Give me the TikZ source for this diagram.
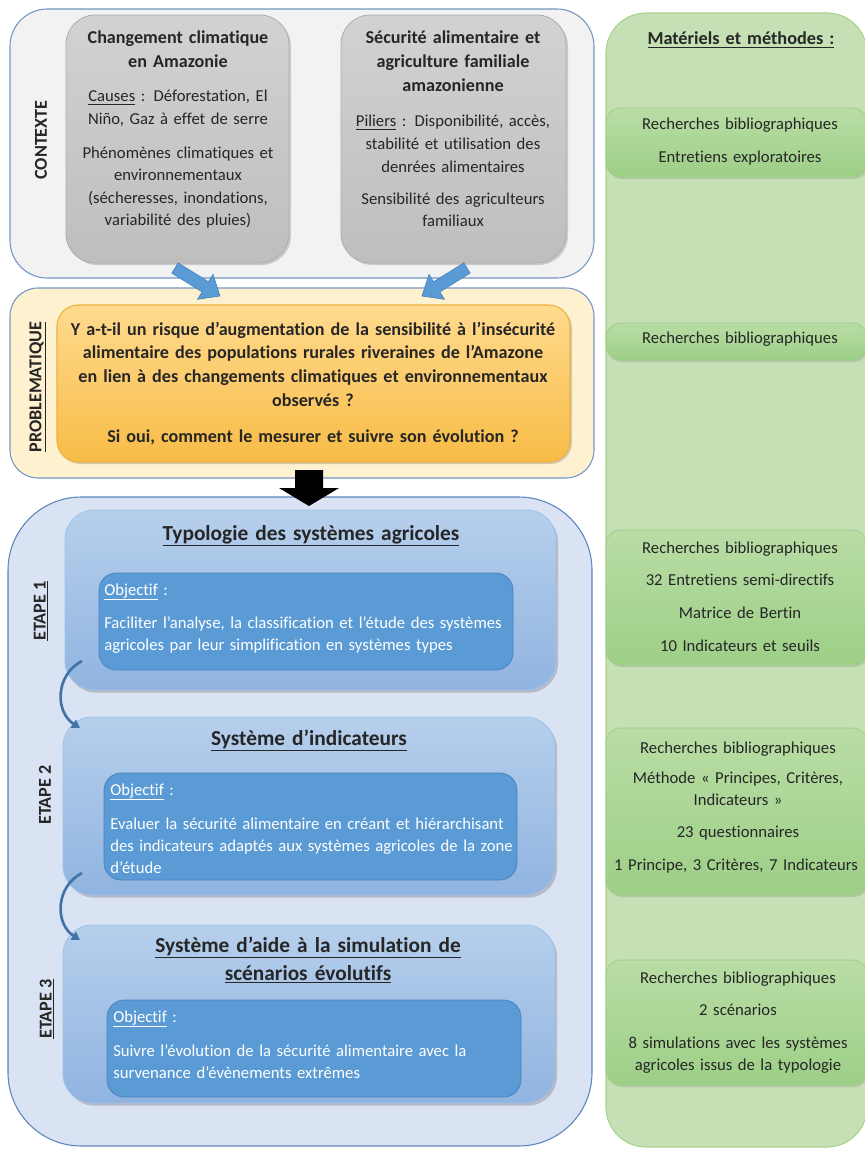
\documentclass[tikz,border=0pt]{standalone}
\usepackage{fontspec}
\setmainfont{Carlito}[Ligatures={NoCommon,NoContextual}]
\usetikzlibrary{shadows,calc,arrows.meta,fit}
\definecolor{txtc}{HTML}{262626}
\definecolor{ctxfill}{HTML}{F2F2F2}
\definecolor{frameblue}{HTML}{7496C4}
\definecolor{greytop}{HTML}{D2D2D2}
\definecolor{greybot}{HTML}{BEBEBE}
\definecolor{greyedge}{HTML}{ADADAD}
\definecolor{probfill}{HTML}{FEF1CF}
\definecolor{orangetop}{HTML}{FFDA8E}
\definecolor{orangebot}{HTML}{F8BC47}
\definecolor{orangeedge}{HTML}{ECB13E}
\definecolor{etfill}{HTML}{DAE3F3}
\definecolor{etedge}{HTML}{5B85BD}
\definecolor{steptop}{HTML}{B6CFEC}
\definecolor{stepbot}{HTML}{90B4E0}
\definecolor{stepedge}{HTML}{A2C1E6}
\definecolor{objfill}{HTML}{5B9BD5}
\definecolor{objedge}{HTML}{4A84BF}
\definecolor{connc}{HTML}{3F73AA}
\definecolor{greencol}{HTML}{C5E0B4}
\definecolor{greenedge}{HTML}{A9D18E}
\definecolor{gsubtop}{HTML}{B9DDA5}
\definecolor{gsubbot}{HTML}{9DCF87}
\definecolor{gsubedge}{HTML}{A0CE89}

% name, tail, tip, shaft half width, head half width, head length, style
\newcommand\fatarrow[7]{%
  \coordinate (#1hb) at ($(#3)!#6!(#2)$);
  \path[#7] ($(#2)!#4!90:(#3)$) -- ($(#1hb)!#4!90:(#3)$) -- ($(#1hb)!#5!90:(#3)$) -- (#3)
    -- ($(#1hb)!#5!-90:(#3)$) -- ($(#1hb)!#4!-90:(#3)$) -- ($(#2)!#4!-90:(#3)$) -- cycle;
}

\begin{document}
\begin{tikzpicture}[x=0.75pt,y=-0.75pt,
  every node/.style={text=txtc},
  frame/.style={draw=frameblue, line width=0.8pt, inner sep=0pt},
  greybox/.style={draw=greyedge, line width=0.6pt, top color=greytop, bottom color=greybot,
    rounded corners=22pt, inner sep=0pt,
    drop shadow={shadow xshift=1.5pt, shadow yshift=-1.5pt, opacity=0.35}},
  orangebox/.style={draw=orangeedge, line width=0.8pt, top color=orangetop, bottom color=orangebot,
    rounded corners=16pt, inner sep=0pt,
    drop shadow={shadow xshift=1.5pt, shadow yshift=-1.5pt, opacity=0.35}},
  stepbox/.style={draw=stepedge, line width=0.6pt, top color=steptop, bottom color=stepbot,
    rounded corners=22pt, inner sep=0pt,
    drop shadow={shadow xshift=1.5pt, shadow yshift=-2pt, opacity=0.4}},
  objbox/.style={draw=objedge, line width=0.6pt, fill=objfill, rounded corners=13pt, inner sep=0pt},
  gsub/.style={draw=gsubedge, line width=0.6pt, top color=gsubtop, bottom color=gsubbot,
    rounded corners=11pt, inner sep=0pt,
    drop shadow={shadow xshift=1pt, shadow yshift=-1.5pt, opacity=0.25}},
  tb/.style={inner sep=0pt, anchor=base, align=center, text width=#1},
  tl/.style={inner sep=0pt, anchor=base west, align=left, text width=#1, text=white,
    font=\fontsize{12.5}{16.5}\selectfont},
  body/.style={font=\fontsize{12.5}{16.9}\selectfont},
  gtitle/.style={font=\bfseries\fontsize{13.6}{18}\selectfont},
  side/.style={rotate=90, inner sep=0pt, font=\bfseries\fontsize{13.6}{16}\selectfont},
  steptitle/.style={font=\bfseries\fontsize{16}{21}\selectfont},
  gtext/.style={font=\fontsize{12.5}{16.5}\selectfont},
  conn/.style={draw=connc, line width=2pt, -{Triangle[length=6pt,width=7pt]}}
]
\useasboundingbox (0,0) rectangle (864,1149);

% ---------- green column ----------
\node[draw=greenedge, line width=0.8pt, fill=greencol, rounded corners=30pt, inner sep=0pt,
  fit={(606,13) (867,1147)}] (green) {};
\node[tb=200pt, font=\bfseries\fontsize{13.7}{16}\selectfont] (mmtitle) at (741,45) {\underline{Matériels et méthodes :}};
\node[gsub, fit={(606,108) (867,177)}] (gs1) {};
\node[gsub, fit={(606,323) (867,360)}] (gs2) {};
\node[gsub, fit={(606,530) (867,665)}] (gs3) {};
\node[gsub, fit={(606,728) (867,895)}] (gs4) {};
\node[gsub, fit={(606,960) (867,1085)}] (gs5) {};

\node[tb=200pt, gtext] (m1a) at (740,129) {Recherches bibliographiques};
\node[tb=200pt, gtext] (m1b) at (740,162) {Entretiens exploratoires};
\node[tb=200pt, gtext] (m2a) at (740,343) {Recherches bibliographiques};
\node[tb=200pt, gtext] (m3a) at (740,553) {Recherches bibliographiques};
\node[tb=200pt, gtext] (m3b) at (740,585) {32 Entretiens semi-directifs};
\node[tb=200pt, gtext] (m3c) at (740,618) {Matrice de Bertin};
\node[tb=200pt, gtext] (m3d) at (740,651) {10 Indicateurs et seuils};
\node[tb=200pt, gtext] (m4a) at (738,753) {Recherches bibliographiques};
\node[tb=200pt, gtext] (m4b) at (738,783) {Méthode « Principes, Critères,\\Indicateurs »};
\node[tb=200pt, gtext] (m4c) at (738,837) {23 questionnaires};
\node[tb=200pt, gtext] (m4d) at (736,870) {1 Principe, 3 Critères, 7 Indicateurs};
\node[tb=200pt, gtext] (m5a) at (738,983) {Recherches bibliographiques};
\node[tb=200pt, gtext] (m5b) at (738,1015) {2 scénarios};
\node[tb=200pt, gtext] (m5c) at (738,1048) {8 simulations avec les systèmes\\agricoles issus de la typologie};

% ---------- contexte ----------
\node[frame, fill=ctxfill, rounded corners=28pt, fit={(10,9) (594,278)}] (ctx) {};
\node[greybox, fit={(66,15) (289,263)}] (g1) {};
\node[greybox, fit={(341,15) (566,263)}] (g2) {};
\node[side] (ctxlab) at (41,140) {CONTEXTE};

\node[tb=165pt, gtitle] (g1t) at (178,44) {Changement climatique\\en Amazonie};
\node[tb=165pt, body] (g1a) at (178,102) {\underline{Causes} : Déforestation, El\\Niño, Gaz à effet de serre};
\node[tb=165pt, body] (g1b) at (178,158) {Phénomènes climatiques et\\environnementaux\\(sécheresses, inondations,\\variabilité des pluies)};

\node[tb=165pt, gtitle] (g2t) at (453,44) {Sécurité alimentaire et\\agriculture familiale\\amazonienne};
\node[tb=165pt, body] (g2a) at (453,127) {\underline{Piliers} : Disponibilité, accès,\\stabilité et utilisation des\\denrées alimentaires};
\node[tb=165pt, body] (g2b) at (453,204) {Sensibilité des agriculteurs\\familiaux};

% ---------- problematique ----------
\node[frame, fill=probfill, rounded corners=21pt, fit={(10,288) (594,478)}] (prob) {};

\coordinate (aLt) at (175,268); \coordinate (aLh) at (220,296);
\coordinate (aRt) at (467,268); \coordinate (aRh) at (422,296);
\fatarrow{aL}{aLt}{aLh}{4.5pt}{11pt}{13pt}{fill=objfill, draw=objedge, line width=0.5pt}
\fatarrow{aR}{aRt}{aRh}{4.5pt}{11pt}{13pt}{fill=objfill, draw=objedge, line width=0.5pt}

\node[orangebox, fit={(57,305) (570,462)}] (orange) {};
\node[side] (problab) at (38,387) {\underline{PROBLEMATIQUE}};
\node[tb=390pt, font=\bfseries\fontsize{13.6}{17.8}\selectfont] (q1) at (313,335)
  {Y a-t-il un risque d’augmentation de la sensibilité à l’insécurité\\alimentaire des populations rurales riveraines de l’Amazone\\en lien à des changements climatiques et environnementaux\\observés ?};
\node[tb=390pt, font=\bfseries\fontsize{13.6}{17.8}\selectfont] (q2) at (313,442)
  {Si oui, comment le mesurer et suivre son évolution ?};

% ---------- etapes ----------
\node[frame, draw=etedge, fill=etfill, rounded corners=55pt, fit={(8,497) (592,1146)}] (etapes) {};

\coordinate (bkt) at (309,470); \coordinate (bkh) at (309,506);
\fatarrow{bk}{bkt}{bkh}{10.5pt}{22.5pt}{13.5pt}{fill=black}

\node[stepbox, fit={(65,510) (556,690)}] (e1) {};
\node[objbox, fit={(99,573) (513,670)}] (o1) {};
\node[stepbox, fit={(63,717) (555,895)}] (e2) {};
\node[objbox, fit={(104,773) (517,880)}] (o2) {};
\node[stepbox, fit={(63,925) (555,1103)}] (e3) {};
\node[objbox, fit={(107,1000) (521,1097)}] (o3) {};

\node[side] (s1lab) at (41,611) {\underline{ETAPE 1}};
\node[side] (s2lab) at (45,795) {ETAPE 2};
\node[side] (s3lab) at (47,1009) {\underline{ETAPE 3}};

\node[tb=360pt, steptitle] (t1) at (311,540) {\underline{Typologie des systèmes agricoles}};
\node[tl=310pt] (o1a) at (104,595) {\underline{Objectif} :};
\node[tl=310pt] (o1b) at (104,628) {Faciliter l’analyse, la classification et l’étude des systèmes\\agricoles par leur simplification en systèmes types};

\node[tb=360pt, steptitle] (t2) at (309,745) {\underline{Système d’indicateurs}};
\node[tl=310pt] (o2a) at (110,795) {\underline{Objectif} :};
\node[tl=310pt] (o2b) at (110,829) {Evaluer la sécurité alimentaire en créant et hiérarchisant\\des indicateurs adaptés aux systèmes agricoles de la zone\\d’étude};

\node[tb=360pt, steptitle] (t3) at (308,952) {\underline{Système d’aide à la simulation de}\\\underline{scénarios évolutifs}};
\node[tl=310pt] (o3a) at (113,1022) {\underline{Objectif} :};
\node[tl=310pt] (o3b) at (113,1056) {Suivre l’évolution de la sécurité alimentaire avec la\\survenance d’évènements extrêmes};

% ---------- connectors between steps ----------
\coordinate (c1s) at (82,661); \coordinate (c1e) at (80,728);
\coordinate (c2s) at (82,873); \coordinate (c2e) at (80,940);
\draw[conn] (c1s) .. controls (55,675) and (55,712) .. (c1e);
\draw[conn] (c2s) .. controls (55,887) and (55,924) .. (c2e);
\end{tikzpicture}
\end{document}
